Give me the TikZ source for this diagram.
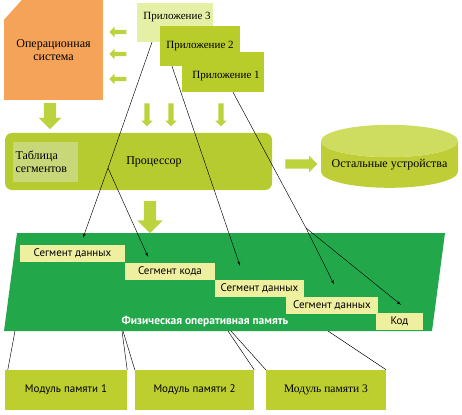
\documentclass[tikz,border=0pt]{standalone}
\usepackage{fontspec}
\setmainfont{Liberation Serif}
\newfontfamily\segfont{PT Sans}
\usetikzlibrary{shapes,arrows,positioning}
\definecolor{osorange}{RGB}{245,163,88}
\definecolor{appgreen}{RGB}{184,204,42}
\definecolor{applight}{RGB}{230,239,166}
\definecolor{cpugreen}{RGB}{181,203,48}
\definecolor{tablgreen}{RGB}{200,216,120}
\definecolor{arrgreen}{RGB}{188,211,62}
\definecolor{devgreen}{RGB}{191,206,54}
\definecolor{devtop}{RGB}{206,220,96}
\definecolor{memgreen}{RGB}{34,168,75}
\definecolor{segyellow}{RGB}{238,240,160}
\definecolor{modgreen}{RGB}{189,206,47}
\newcommand{\bigtxt}{\fontsize{12}{13.5}\selectfont}
\newcommand{\segtxt}{\segfont\fontsize{11}{12}\selectfont}
\tikzstyle{block} = [rectangle, inner sep=0pt, text centered, font=\bigtxt]
\tikzstyle{txt} = [font=\bigtxt]
\tikzstyle{app} = [block, fill=appgreen]
\tikzstyle{seg} = [rectangle, fill=segyellow, inner sep=0pt, minimum height=17pt,
    font=\segtxt]
\tikzstyle{modul} = [rectangle, fill=modgreen, inner sep=0pt, minimum height=40pt,
    font=\segtxt]
\tikzstyle{fatarr} = [single arrow, fill=arrgreen, single arrow head indent=0pt]
\tikzstyle{smallarr} = [fatarr, inner sep=2.5pt, single arrow head extend=3pt]
\tikzstyle{line} = [draw, line width=0.45pt, -latex']
\tikzstyle{proj} = [draw, line width=0.45pt]

\begin{document}
\begin{tikzpicture}[x=1pt, y=-1pt]
        \useasboundingbox (0,0) rectangle (462,414);
        % Place nodes

        % Operating system and applications
        \node [block, fill=osorange, minimum width=99pt, minimum height=100pt,
               align=center] (os) at (53.5,50) {Операционная\\система};
        \fill [white] (os.north west) -- ++(0,20) -- ++(18,-20) -- cycle;
        \node [app, fill=applight, minimum width=76pt, minimum height=39pt] (app3) at (175,22.5) {};
        \node [txt, font=\fontsize{11}{12}\selectfont] (app3t) at (177,17) {Приложение 3};
        \node [app, minimum width=82pt, minimum height=40pt] (app1) at (223,72) {};
        \node [txt, font=\fontsize{11}{12}\selectfont] (app1t) at (226,76) {Приложение 1};
        \node [app, minimum width=80pt, minimum height=40pt, font=\fontsize{11}{12}\selectfont]
              (app2) at (200,46) {Приложение 2};

        % small arrows from the applications
        \foreach \y/\n in {32/l1, 54/l2, 79/l3}
          \node [smallarr, inner sep=2pt, minimum height=17pt, shape border rotate=180]
                (\n) at (119,\y) {};
        \foreach \x/\n in {147/d1, 171/d2, 221/d3}
          \node [smallarr, minimum height=23pt, shape border rotate=270] (\n) at (\x,113.5) {};
        \node [fatarr, inner sep=6pt, single arrow head extend=5pt, minimum height=26pt,
               shape border rotate=270] (osar) at (50,113) {};

        % Processor
        \node [block, fill=cpugreen, rounded corners=7pt, minimum width=267pt,
               minimum height=57pt] (cpu) at (138.5,161.5) {};
        \node [block, fill=tablgreen, minimum width=65pt, minimum height=40pt,
               align=left, text width=60pt] (tabl) at (45.5,162) {Таблица\\сегментов};
        \node [txt] (cpul) at (154,162) {Процессор};
        \node [fatarr, inner sep=4.5pt, single arrow head extend=3.5pt, minimum height=32pt]
              (rar) at (299,164) {};
        \node [cylinder, shape border rotate=90, aspect=0.28, minimum height=63pt,
               minimum width=137pt, cylinder uses custom fill, cylinder body fill=devgreen,
               cylinder end fill=devtop, inner sep=0pt, font=\bigtxt] (devs) at (389.5,164.5)
              {Остальные устройства};
        \node [fatarr, inner sep=6pt, single arrow head extend=6.5pt, minimum height=32pt,
               shape border rotate=270] (cpuar) at (150,214) {};

        % Physical memory
        \fill [memgreen] (17,233) -- (445,233) -- (432,331) -- (4,331) -- cycle;
        \node [seg, minimum width=105pt] (seg1) at (72.5,253.5) {Сегмент данных};
        \node [seg, minimum width=90pt] (seg2) at (170,271.5) {Сегмент кода};
        \node [seg, minimum width=89pt] (seg3) at (259.5,288.5) {Сегмент данных};
        \node [seg, minimum width=92pt] (seg4) at (332,305) {Сегмент данных};
        \node [seg, minimum width=47pt] (kod) at (399.5,321.5) {Код};
        \node [font=\segfont\bfseries\fontsize{11.5}{12}\selectfont, text=white] (phys)
              at (205,322) {Физическая оперативная память};

        % Memory modules
        \node [modul, minimum width=122pt] (mod1) at (66,390) {Модуль памяти 1};
        \node [modul, minimum width=119pt] (mod2) at (194.5,390) {Модуль памяти 2};
        \node [modul, minimum width=120pt, font=\fontsize{11.5}{12}\selectfont] (mod3)
              at (326,390) {Модуль памяти 3};

        \coordinate (m1a) at (15,331);
        \coordinate (m1b) at (122,331);
        \coordinate (m2a) at (123,331);
        \coordinate (m2b) at (228,331);
        \coordinate (m3a) at (231,331);
        \coordinate (m3b) at (328,331);
        \coordinate (br3) at (108,168); % branch of application 3
        \coordinate (br1) at (306,228); % branch of application 1

        % Draw edges
        \path [line] ([xshift=-23pt]app3.south) -- (br3) -- ([xshift=10.5pt,yshift=7pt]seg1.north);
        \path [line] (br3) -- ([xshift=-22pt,yshift=6pt]seg2.north);
        \path [line] ([xshift=-28pt]app2.south) -- ([xshift=-19.5pt,yshift=14pt]seg3.north);
        \path [proj] ([xshift=10pt]app1.south) -- (br1);
        \path [line] (br1) -- ([xshift=2pt,yshift=12pt]seg4.north);
        \path [line] (br1) -- ([xshift=1.5pt,yshift=8pt]kod.north);
        \path [proj] (m1a) -- ([xshift=3pt]mod1.north west);
        \path [proj] (m1b) -- (mod1.north east);
        \path [proj] (m2a) -- (mod2.north west);
        \path [proj] (m2b) -- (mod2.north east);
        \path [proj] (m3a) -- (mod3.north west);
        \path [proj] (m3b) -- (mod3.north east);
\end{tikzpicture}
\end{document}
